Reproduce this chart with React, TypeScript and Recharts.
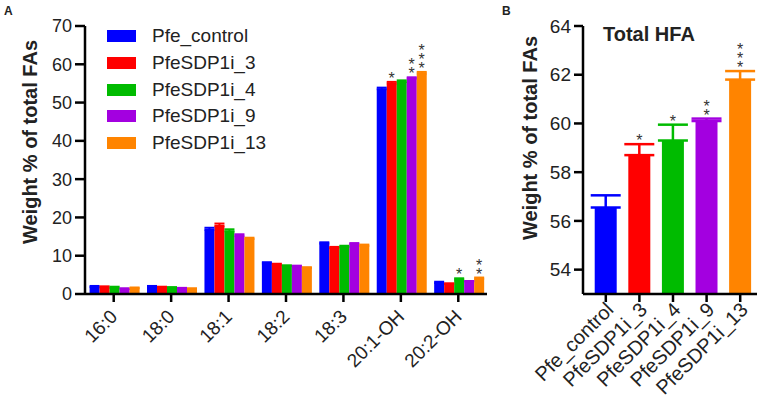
import { BarChart, Bar, XAxis, YAxis, ErrorBar, LabelList, Legend } from "recharts";

// Panel A: individual fatty acids
const fattyAcids = ["16:0", "18:0", "18:1", "18:2", "18:3", "20:1-OH", "20:2-OH"];
const lines = ["Pfe_control", "PfeSDP1i_3", "PfeSDP1i_4", "PfeSDP1i_9", "PfeSDP1i_13"];
const lineColors = ["#0000ff", "#ff0000", "#00bb00", "#a300e0", "#ff8400"];

const pfeControl = [1.8, 1.8, 16.8, 8.0, 13.2, 53.5, 2.9];
const sdp1i3 = [1.7, 1.6, 17.8, 7.6, 12.0, 55.0, 2.6];
const sdp1i4 = [1.6, 1.6, 16.4, 7.3, 12.3, 55.4, 3.8];
const sdp1i9 = [1.3, 1.4, 15.2, 7.2, 13.0, 56.3, 3.3];
const sdp1i13 = [1.5, 1.3, 14.4, 6.8, 12.6, 57.6, 4.0];

const pfeControlErr = [0.3, 0.3, 0.5, 0.3, 0.3, 0.4, 0.3];
const sdp1i3Err = [0.3, 0.3, 0.6, 0.3, 0.3, 0.4, 0.2];
const sdp1i4Err = [0.3, 0.2, 0.5, 0.2, 0.3, 0.4, 0.3];
const sdp1i9Err = [0.2, 0.2, 0.4, 0.2, 0.3, 0.3, 0.1];
const sdp1i13Err = [0.2, 0.2, 0.3, 0.2, 0.3, 0.4, 0.3];

// number of asterisks above each bar
const pfeControlSig = [0, 0, 0, 0, 0, 0, 0];
const sdp1i3Sig = [0, 0, 0, 0, 0, 1, 0];
const sdp1i4Sig = [0, 0, 0, 0, 0, 0, 1];
const sdp1i9Sig = [0, 0, 0, 0, 0, 2, 0];
const sdp1i13Sig = [0, 0, 0, 0, 0, 3, 2];

const yTicksA = [0, 10, 20, 30, 40, 50, 60, 70];

// Panel B: total HFA
const totalHfa = [56.55, 58.7, 59.3, 60.1, 61.8];
const totalHfaErr = [0.5, 0.45, 0.65, 0.1, 0.35];
const totalHfaSig = [0, 1, 1, 2, 3];
const yTicksB = [54, 56, 58, 60, 62, 64];

const seriesValues = [pfeControl, sdp1i3, sdp1i4, sdp1i9, sdp1i13];
const seriesErrs = [pfeControlErr, sdp1i3Err, sdp1i4Err, sdp1i9Err, sdp1i13Err];
const seriesSigs = [pfeControlSig, sdp1i3Sig, sdp1i4Sig, sdp1i9Sig, sdp1i13Sig];

// error bars only go up (lower part hidden in the bar anyway)
const dataA = fattyAcids.map((fa, i) => {
  const row: Record<string, any> = { fa };
  seriesValues.forEach((vals, s) => {
    row[`v${s}`] = vals[i];
    row[`e${s}`] = [0, seriesErrs[s][i]];
  });
  return row;
});

// one key per line so each bar keeps its own colour; t = invisible bar up to the error cap
const dataB = lines.map((name, i) => ({
  name,
  [`v${i}`]: totalHfa[i],
  [`e${i}`]: [0, totalHfaErr[i]],
  [`t${i}`]: totalHfaErr[i],
  [`n${i}`]: totalHfaSig[i],
}));

const FONT = "'Liberation Sans', Arial, sans-serif";
const INK = "#222";

const axisLine = { stroke: "#000", strokeWidth: 2.5 };
const tickLine = { stroke: "#000", strokeWidth: 2.5 };

const starStack = (cx: number, top: number, n: number) => (
  <text x={cx} y={top + 2 - (n - 1) * 9} textAnchor="middle" fontFamily={FONT} fontSize={16} fill="#333">
    {Array.from({ length: n }).map((_, k) => (
      <tspan key={k} x={cx} dy={k === 0 ? 0 : 9}>
        *
      </tspan>
    ))}
  </text>
);

// panel A: px-per-unit from the bar's own height
const starsA = (sig: number[], err: number[]) => (props: any) => {
  const vb = props.viewBox || props;
  const { x, y, width, height } = vb;
  const n = sig[props.index];
  const val = Number(props.value);
  if (!n || !val) return null;
  const top = y - err[props.index] * (Math.abs(height) / val);
  return starStack(x + width / 2, top, n);
};

// panel B: label sits on top of the invisible error-height bar
const starsB = (props: any) => {
  const vb = props.viewBox || props;
  const n = Number(props.value);
  if (!n) return null;
  return starStack(vb.x + vb.width / 2, vb.y, n);
};

const yTitle = (cx: number, cy: number) => () => (
  <text
    x={cx}
    y={cy}
    transform={`rotate(-90, ${cx}, ${cy})`}
    textAnchor="middle"
    dominantBaseline="central"
    fontFamily={FONT}
    fontWeight="bold"
    fontSize={20}
    fill={INK}
  >
    Weight % of total FAs
  </text>
);

const slantTick = (dx: number, dy: number, size: number) => (props: any) => {
  const { x, y, payload } = props;
  return (
    <g transform={`translate(${x + dx}, ${y + dy}) rotate(-45)`}>
      <text x={0} y={0} dy="0.35em" textAnchor="end" fontFamily={FONT} fontSize={size} fill={INK}>
        {payload.value}
      </text>
    </g>
  );
};

const legendContent = () => (
  <div style={{ fontFamily: FONT, fontSize: 19, color: INK }}>
    {lines.map((name, s) => (
      <div key={name} style={{ height: 26.7, display: "flex", alignItems: "center" }}>
        <div style={{ width: 29, height: 12, background: lineColors[s], marginRight: 16 }} />
        <span>{name}</span>
      </div>
    ))}
  </div>
);

function PanelA() {
  return (
    <BarChart
      width={500}
      height={401}
      data={dataA}
      margin={{ top: 26, right: 13, left: 0, bottom: 0 }}
      barCategoryGap="8%"
      barGap={0}
    >
      <XAxis
        dataKey="fa"
        height={107}
        axisLine={axisLine}
        tickLine={tickLine}
        tickSize={8}
        tick={slantTick(0, 9, 19)}
        interval={0}
      />
      <YAxis
        width={85}
        domain={[0, 70]}
        ticks={yTicksA}
        axisLine={axisLine}
        tickLine={tickLine}
        tickSize={10}
        tickMargin={3}
        tick={{ fontFamily: FONT, fontSize: 18, fill: INK }}
        label={{ content: yTitle(30, 142) }}
      />
      <Legend
        layout="vertical"
        align="center"
        verticalAlign="middle"
        content={legendContent}
        wrapperStyle={{ top: 23, left: 107, width: 200 }}
      />
      {lines.map((name, s) => (
        <Bar key={name} dataKey={`v${s}`} name={name} fill={lineColors[s]} isAnimationActive={false}>
          <ErrorBar dataKey={`e${s}`} width={5} strokeWidth={2} stroke={lineColors[s]} direction="y" />
          <LabelList dataKey={`v${s}`} content={starsA(seriesSigs[s], seriesErrs[s])} />
        </Bar>
      ))}
    </BarChart>
  );
}

function PanelB() {
  return (
    <BarChart
      width={267}
      height={401}
      data={dataB}
      margin={{ top: 26, right: 10, left: 0, bottom: 0 }}
      barCategoryGap="17%"
    >
      <XAxis
        dataKey="name"
        height={107}
        axisLine={axisLine}
        tickLine={tickLine}
        tickSize={8}
        tick={slantTick(4, 2, 20)}
        interval={0}
        padding={{ left: 6, right: 0 }}
      />
      <YAxis
        width={83}
        domain={[53, 64]}
        ticks={yTicksB}
        allowDataOverflow
        axisLine={axisLine}
        tickLine={tickLine}
        tickSize={9}
        tickMargin={3}
        tick={{ fontFamily: FONT, fontSize: 19, fill: INK }}
        label={{ content: yTitle(30, 138) }}
      />
      {lines.map((name, s) => (
        <Bar key={name} dataKey={`v${s}`} stackId="hfa" fill={lineColors[s]} isAnimationActive={false}>
          <ErrorBar dataKey={`e${s}`} width={15} strokeWidth={2.5} stroke={lineColors[s]} direction="y" />
        </Bar>
      ))}
      {lines.map((name, s) => (
        <Bar key={`t${name}`} dataKey={`t${s}`} stackId="hfa" fill="none" isAnimationActive={false}>
          <LabelList dataKey={`n${s}`} content={starsB} />
        </Bar>
      ))}
    </BarChart>
  );
}

export default function App() {
  return (
    <div style={{ position: "absolute", left: 0, top: 0, width: 767, height: 401, background: "#fff" }}>
      <div style={{ position: "absolute", left: 0, top: 0 }}>
        <PanelA />
      </div>
      <div style={{ position: "absolute", left: 500, top: 0 }}>
        <PanelB />
      </div>
      <div style={{ position: "absolute", left: 4, top: 4, fontFamily: FONT, fontWeight: "bold", fontSize: 12, color: INK }}>A</div>
      <div style={{ position: "absolute", left: 502, top: 4, fontFamily: FONT, fontWeight: "bold", fontSize: 12, color: INK }}>B</div>
      <div style={{ position: "absolute", left: 603, top: 23, fontFamily: FONT, fontWeight: "bold", fontSize: 20, color: INK }}>Total HFA</div>
    </div>
  );
}
